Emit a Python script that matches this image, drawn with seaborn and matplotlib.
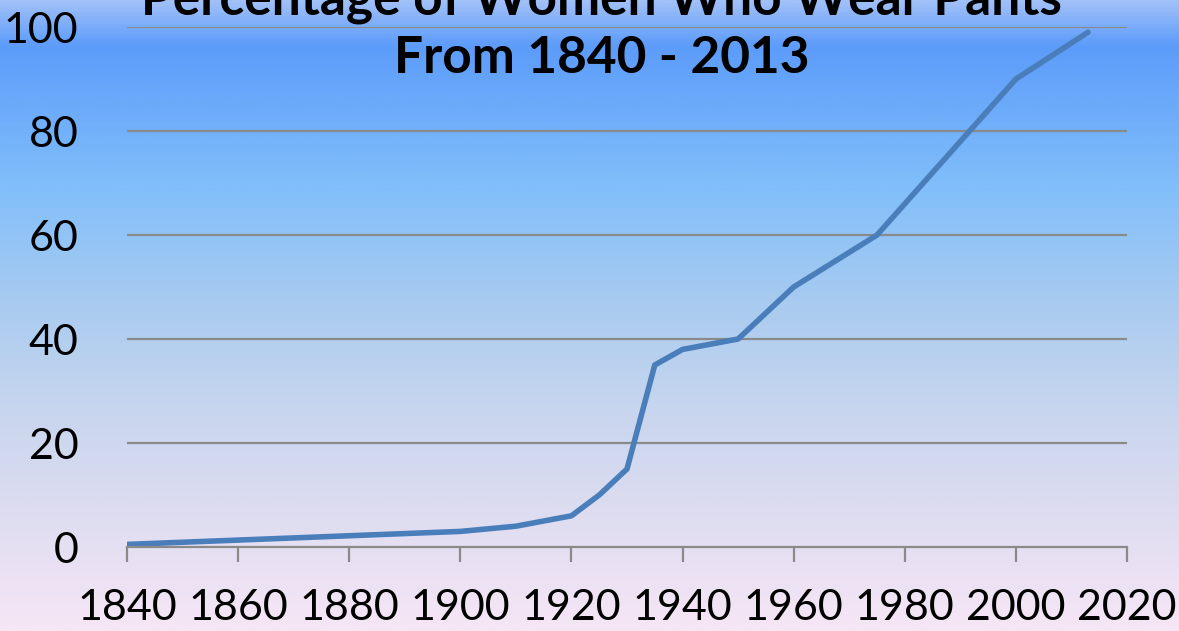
import numpy as np
import pandas as pd
import seaborn as sns
import matplotlib.pyplot as plt
from matplotlib.colors import LinearSegmentedColormap

# data
years = [1840, 1900, 1910, 1920, 1925, 1930, 1935, 1940, 1950, 1960, 1975, 2000, 2013]
percent = [0.5, 3, 4, 6, 10, 15, 35, 38, 40, 50, 60, 90, 99]
x_ticks = [1840, 1860, 1880, 1900, 1920, 1940, 1960, 1980, 2000, 2020]
y_ticks = [0, 20, 40, 60, 80, 100]

df = pd.DataFrame({'Ano': years, 'Pct': percent})

sns.set_style('white')
plt.rcParams['font.family'] = ['Lato', 'DejaVu Sans']

fig = plt.figure(figsize=(11.79, 6.31), dpi=100)

# background gradient (top blue -> bottom lavender)
bg = fig.add_axes([0, 0, 1, 1], zorder=0)
stops = [(0.0, '#a0c0f8'), (0.07, '#5c9cfa'), (0.30, '#82bffa'),
         (0.48, '#a8cbf0'), (0.64, '#c6d5ee'), (0.80, '#dcdcf0'), (1.0, '#f6e6f6')]
cmap = LinearSegmentedColormap.from_list('fundo', stops)
grad = np.linspace(0, 1, 400).reshape(-1, 1)
bg.imshow(grad, aspect='auto', cmap=cmap, extent=[0, 1, 0, 1], origin='upper')
bg.axis('off')

ax = fig.add_axes([0.1077, 0.1331, 0.8482, 0.8241], zorder=1)
ax.patch.set_alpha(0)

sns.lineplot(data=df, x='Ano', y='Pct', color='#4a7ebb', linewidth=4, ax=ax)

ax.set_xlim(1840, 2020)
ax.set_ylim(0, 100)
ax.set_xticks(x_ticks)
ax.set_yticks(y_ticks)
ax.set_xlabel('')
ax.set_ylabel('')

for v in y_ticks[1:]:
    ax.axhline(v, color='#8a8a8a', linewidth=1.6, zorder=0)

for s in ['top', 'right', 'left']:
    ax.spines[s].set_visible(False)
ax.spines['bottom'].set_color('#8a8a8a')
ax.spines['bottom'].set_linewidth(1.6)

ax.tick_params(axis='x', direction='out', length=11, width=1.6, color='#8a8a8a',
               labelsize=31, pad=19, bottom=True, labelcolor='black')
ax.tick_params(axis='y', length=0, labelsize=31, pad=35, labelcolor='black')

fig.text(0.51, 1.0, 'Percentage of Women Who Wear Pants', ha='center', va='center',
         fontsize=37, fontweight='bold', color='black')
fig.text(0.51, 0.908, 'From 1840 - 2013', ha='center', va='center',
         fontsize=37, fontweight='bold', color='black')

plt.savefig('out.png', dpi=100)
